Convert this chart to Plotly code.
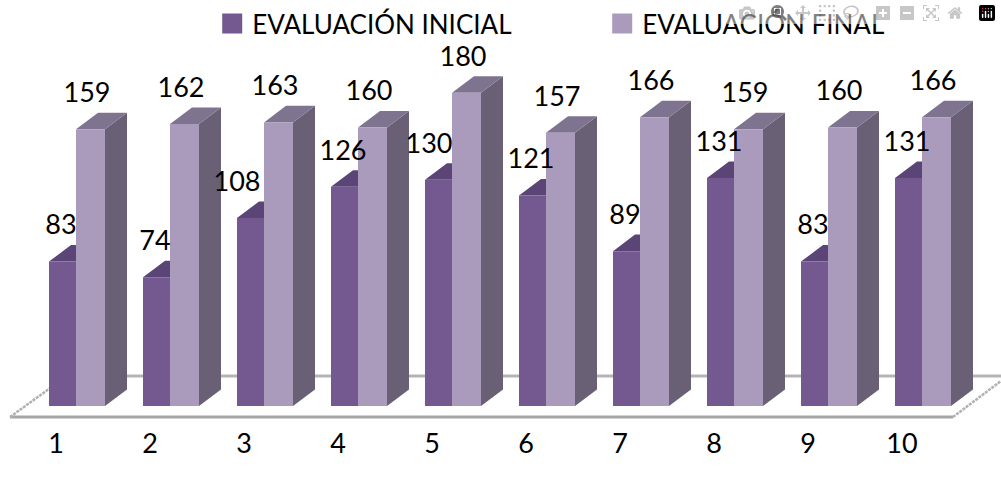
import plotly.graph_objects as go

categories = [1, 2, 3, 4, 5, 6, 7, 8, 9, 10]
evaluacion_inicial = [83, 74, 108, 126, 130, 121, 89, 131, 83, 131]
evaluacion_final = [159, 162, 163, 160, 180, 157, 166, 159, 160, 166]

FONT = "Lato"
PITCH = 94  # px per category

# bar edges relative to the category tick, in category units
A_LEFT, A_RIGHT = -7 / PITCH, 20 / PITCH
B_LEFT, B_RIGHT = 20 / PITCH, 49 / PITCH
DEPTH_X, DEPTH_Y = 22 / PITCH, 9.5
LABEL_Y = 19.5

# a few labels of the first series sit further left in the reference
a_label_nudge = {3: -12, 5: -8}


def faces(vals, left, right):
    # fake the 3D look: side and top parallelograms derived from the values
    side_x, side_y, top_x, top_y = [], [], [], []
    for c, v in zip(categories, vals):
        l, r = c + left, c + right
        side_x += [r, r + DEPTH_X, r + DEPTH_X, r, r, None]
        side_y += [0, DEPTH_Y, v + DEPTH_Y, v, 0, None]
        top_x += [l, r, r + DEPTH_X, l + DEPTH_X, l, None]
        top_y += [v, v, v + DEPTH_Y, v + DEPTH_Y, v, None]
    return side_x, side_y, top_x, top_y


def add_series(fig, name, vals, left, right, front, side, top, z):
    side_x, side_y, top_x, top_y = faces(vals, left, right)
    for xs, ys, color in [(side_x, side_y, side), (top_x, top_y, top)]:
        fig.add_trace(go.Scatter(
            x=xs, y=ys, mode="lines", fill="toself", fillcolor=color,
            line=dict(width=0), showlegend=False, hoverinfo="skip", zorder=z,
        ))
    fig.add_trace(go.Bar(
        x=categories, y=vals, width=right - left, offset=left, name=name,
        marker=dict(color=front, line=dict(width=0)), showlegend=False, zorder=z + 1,
    ))
    # legend swatch is bigger than what a bar trace gives
    fig.add_trace(go.Scatter(
        x=[None], y=[None], mode="markers", name=name,
        marker=dict(symbol="square", size=16, color=front, line=dict(width=4, color=front)),
    ))


fig = go.Figure()
add_series(fig, "EVALUACIÓN INICIAL", evaluacion_inicial, A_LEFT, A_RIGHT,
           "#73598f", "#584473", "#5b4577", 1)
add_series(fig, "EVALUACIÓN FINAL", evaluacion_final, B_LEFT, B_RIGHT,
           "#aa9bbd", "#6a6075", "#7f7490", 3)

fig.add_trace(go.Scatter(
    x=[c + (5 + a_label_nudge.get(c, 0)) / PITCH for c in categories],
    y=[v + LABEL_Y for v in evaluacion_inicial],
    text=evaluacion_inicial, mode="text", textposition="middle center",
    textfont=dict(size=27, color="#000000", family=FONT),
    showlegend=False, hoverinfo="skip", zorder=5,
))
fig.add_trace(go.Scatter(
    x=[c + 31 / PITCH for c in categories],
    y=[v + LABEL_Y for v in evaluacion_final],
    text=evaluacion_final, mode="text", textposition="middle center",
    textfont=dict(size=27, color="#000000", family=FONT),
    showlegend=False, hoverinfo="skip", zorder=5,
))

# floor of the 3D chart, in page fractions
floor_color = "#a6a6a6"
W, H = 1001, 484
floor_lines = [
    (10, 417, 953, 417, 3, "solid", floor_color),
    (60, 376, 1001, 376, 3, "solid", "#b4b4b4"),
    (10, 417, 60, 381, 2.5, "3px,1px", "#b0b0b0"),
    (953, 417, 1001, 381, 2.5, "3px,1px", "#b0b0b0"),
]
shapes = [
    dict(type="line", xref="x domain", yref="paper", layer="below",
         x0=x0 / W, x1=x1 / W, y0=(425 - y0) / 425, y1=(425 - y1) / 425,
         line=dict(color=c, width=w, dash=d))
    for x0, y0, x1, y1, w, d, c in floor_lines
]

fig.update_layout(
    width=W, height=H,
    margin=dict(l=0, r=0, t=0, b=H - 425, pad=0),
    paper_bgcolor="white", plot_bgcolor="white",
    barmode="overlay",
    shapes=shapes,
    font=dict(family=FONT, size=27, color="#000000"),
    legend=dict(
        orientation="h", xref="paper", yref="paper", x=0.212, y=1.0,
        xanchor="left", yanchor="top", bgcolor="rgba(0,0,0,0)",
        font=dict(size=26), entrywidth=345, entrywidthmode="pixels",
        itemclick=False, tracegroupgap=0,
    ),
    xaxis=dict(
        range=[1 - 56 / PITCH, 1 + (W - 56) / PITCH],
        tickmode="array", tickvals=categories, ticktext=[str(c) for c in categories],
        showgrid=False, zeroline=False, showline=False, ticks="",
        tickfont=dict(size=27, family=FONT), automargin=False,
    ),
    yaxis=dict(range=[-19 / 1.74, 406 / 1.74], visible=False, showgrid=False, zeroline=False),
)

fig.write_html("out.html", post_script="document.body.style.margin='0';")
